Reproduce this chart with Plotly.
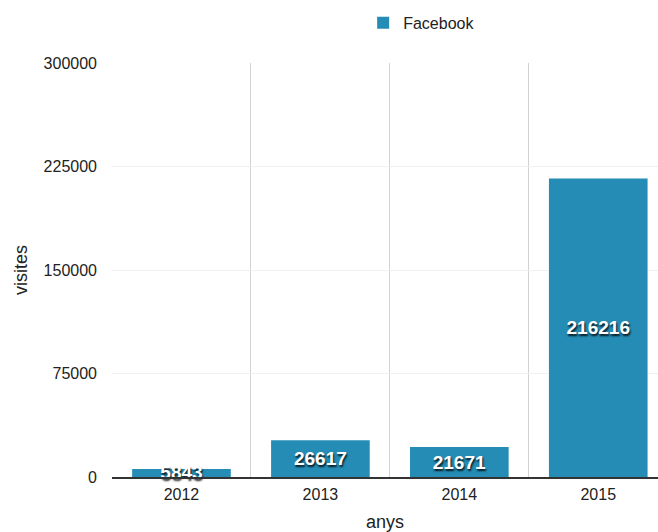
import plotly.graph_objects as go

years = ["2012", "2013", "2014", "2015"]
visits = [5843, 26617, 21671, 216216]
series_name = "Facebook"
y_ticks = [0, 75000, 150000, 225000, 300000]

fig = go.Figure()
fig.add_trace(go.Bar(
    x=years, y=visits, name=series_name,
    marker=dict(color="#258db5", line=dict(width=0)),
    text=[str(v) for v in visits],
    textposition="inside", insidetextanchor="middle",
    textfont=dict(family="Liberation Sans, Arial, sans-serif", size=19, color="white",
                  weight="bold", shadow="1px 2px 2px rgba(0,0,0,0.85)"),
    cliponaxis=False,
))

fig.update_layout(
    width=658, height=532,
    margin=dict(l=112, r=0, t=63, b=55),
    paper_bgcolor="white", plot_bgcolor="white",
    font=dict(family="Liberation Sans, Arial, sans-serif", size=16, color="#222"),
    bargap=0.29,
    uniformtext=dict(minsize=19, mode="show"),
    showlegend=True,
    legend=dict(orientation="h", x=0.46, xanchor="left", y=0.957, yanchor="middle",
                yref="container", font=dict(size=16, color="#222"),
                itemwidth=30),
    xaxis=dict(
        type="category", range=[-0.5, 3.43], tickson="boundaries",
        showgrid=True, gridcolor="#d2d2d2", gridwidth=1,
        ticks="", showline=True, linecolor="#333", linewidth=1.5,
        ticklabelstandoff=2,
        title=dict(text="anys", font=dict(size=18), standoff=14),
        tickfont=dict(size=16),
    ),
    yaxis=dict(
        range=[0, 300000], tickvals=y_ticks, ticktext=[str(t) for t in y_ticks],
        showgrid=True, gridcolor="#f0f0f0", gridwidth=1,
        zeroline=False, showline=False, ticks="",
        ticklabelstandoff=14,
        title=dict(text="visites", font=dict(size=18), standoff=11),
        tickfont=dict(size=16),
    ),
)

fig.write_html("out.html")
